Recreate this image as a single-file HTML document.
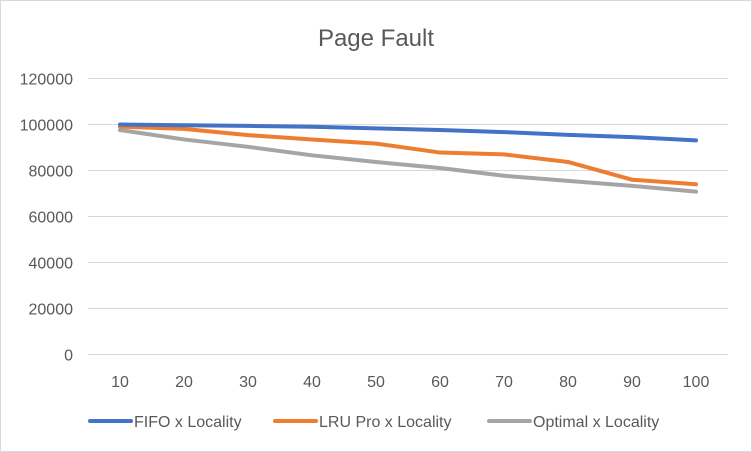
<!DOCTYPE html>
<html><head><meta charset="utf-8"><style>
body{margin:0;background:#fff}
svg{display:block;font-family:"Liberation Sans",sans-serif}
</style></head><body>
<svg id="c" width="752" height="452">
<rect x="0.5" y="0.5" width="751" height="451" fill="#fff" stroke="#d9d9d9"/>
<text x="376" y="46" text-anchor="middle" font-size="24" fill="#595959">Page Fault</text>
<g id="grid"></g><g id="series"></g><g id="legend"></g>
</svg>
<script>
const categories=[10,20,30,40,50,60,70,80,90,100];
const yTicks=[0,20000,40000,60000,80000,100000,120000];
const fifo=[100000,99700,99400,99000,98300,97600,96700,95500,94500,93100];
const lru=[99100,98100,95400,93500,91700,87800,87000,83700,76000,74000];
const optimal=[97600,93500,90300,86600,83700,81100,77700,75500,73300,70800];
const seriesNames=["FIFO x Locality","LRU Pro x Locality","Optimal x Locality"];
const NS="http://www.w3.org/2000/svg";
const x0=88,x1=728,y0=354.5,y1=78.5;
const xs=i=>x0+(i+0.5)*(x1-x0)/categories.length;
const ys=v=>y0-(v/120000)*(y0-y1);
function mk(t,a,p){const e=document.createElementNS(NS,t);for(const k in a)e.setAttribute(k,a[k]);p.appendChild(e);return e;}
const grid=document.getElementById('grid');
yTicks.forEach(v=>{
 const l=mk('line',{x1:x0,x2:x1,y1:ys(v),y2:ys(v),stroke:'#d9d9d9','stroke-width':1},grid);
 
 
 const t=mk('text',{x:73,y:ys(v)+6,'text-anchor':'end','font-size':16,fill:'#595959'},grid);
 t.textContent=v;
 
 
});
categories.forEach((c,i)=>{
 const t=mk('text',{x:xs(i),y:387,'text-anchor':'middle','font-size':16,fill:'#595959'},grid);
 t.textContent=c;
 
 
});
const colors=['#4472c4','#ed7d31','#a5a5a5'];
const data=[fifo,lru,optimal];
const sg=document.getElementById('series');
[2,1,0].forEach(k=>{
 const p=mk('polyline',{points:data[k].map((v,i)=>xs(i)+','+ys(v)).join(' '),fill:'none',stroke:colors[k],'stroke-width':4,'stroke-linejoin':'round','stroke-linecap':'round'},sg);
 
 
});
const lg=document.getElementById('legend');
const lx=[90,275,489];
seriesNames.forEach((n,k)=>{
 const l=mk('line',{x1:lx[k],x2:lx[k]+41,y1:421,y2:421,stroke:colors[k],'stroke-width':4,'stroke-linecap':'round'},lg);
 
 
 const t=mk('text',{x:lx[k]+44,y:427,'font-size':16,fill:'#595959'},lg);
 t.textContent=n;
 
 
});
</script>
</body></html>
